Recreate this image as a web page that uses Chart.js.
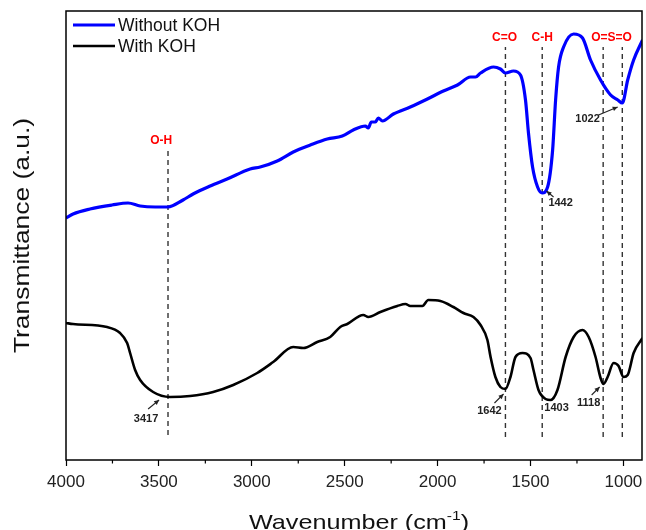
<!DOCTYPE html>
<html>
<head>
<meta charset="utf-8">
<script src="https://cdn.jsdelivr.net/npm/chart.js@4.4.1/dist/chart.umd.min.js"></script>
<style>html,body{margin:0;padding:0;background:#fff}#wrap{width:646px;height:530px}</style>
</head>
<body>
<div id="wrap"><canvas id="c" width="646" height="530"></canvas></div>
<script>
'use strict';
// Spectres FTIR : sans KOH (bleu) / avec KOH (noir). Transmittance en unités arbitraires.
const FONT = '"Liberation Sans", Arial, sans-serif';

const BLUE_WN = [4000, 3962, 3871, 3752, 3666, 3601, 3520, 3451, 3370, 3316, 3224, 3133, 3009, 2955, 2863, 2777, 2685, 2594, 2513, 2454,
  2389, 2373, 2357, 2335, 2319, 2297, 2238, 2147, 2055, 1969, 1893, 1823, 1796, 1769, 1699, 1662, 1635, 1592, 1554, 1527,
  1511, 1489, 1462, 1437, 1408, 1381, 1365, 1349, 1322, 1268, 1220, 1177, 1123, 1069, 1030, 1006, 977, 945, 897];
const BLUE_T = [242, 246, 251, 255, 257, 254, 253, 253, 260, 266, 274, 281, 291, 293, 299, 308, 315, 321, 324, 330,
  334, 332, 338, 338, 342, 339, 346, 353, 361, 369, 375, 383, 383, 387, 393, 391, 387, 389, 385, 360,
  327, 293, 273, 267, 273, 310, 360, 393, 413, 426, 422, 400, 380, 365, 360, 357, 380, 400, 420];

const BLACK_WN = [4000, 3962, 3779, 3709, 3671, 3655, 3628, 3601, 3531, 3440, 3332, 3208, 3100, 2971, 2885, 2777, 2723, 2648, 2578, 2524,
  2486, 2400, 2373, 2308, 2217, 2173, 2147, 2082, 2050, 1985, 1915, 1861, 1807, 1769, 1732, 1715, 1689, 1662, 1635, 1608,
  1581, 1543, 1500, 1484, 1457, 1419, 1392, 1355, 1311, 1268, 1220, 1187, 1150, 1123, 1107, 1085, 1053, 1026, 999, 977, 945, 897];
const BLACK_T = [137, 136, 133, 127, 117, 107, 90, 80, 68, 63, 64, 68, 75, 87, 98, 113, 112, 118, 123, 133,
  136, 145, 143, 148, 154, 156, 154, 154, 160, 159, 153, 147, 143, 135, 120, 103, 83, 73, 71, 83,
  103, 107, 102, 90, 70, 61, 60, 70, 103, 123, 130, 123, 103, 82, 76, 83, 97, 94, 83, 85, 107, 122];

const SERIES = ['Without KOH', 'With KOH'];
const MAJOR_TICKS = [4000, 3500, 3000, 2500, 2000, 1500, 1000];
const MINOR_TICKS = [3750, 3250, 2750, 2250, 1750, 1250];

// Bandes repérées (traits pointillés) : position, haut et bas du trait.
const BAND_WN = [3451, 1635, 1437, 1109, 1006];
const BAND_TOP = [312, 413, 413, 413, 413];
const BAND_BOTTOM = [25, 23, 23, 23, 23];

// Libellés des groupes (rouge) et des pics (noir, avec flèche éventuelle).
const GROUPS = [
  { text: 'O-H', wn: 3488, t: 319 },
  { text: 'C=O', wn: 1640, t: 422 },
  { text: 'C-H', wn: 1437, t: 422 },
  { text: 'O=S=O', wn: 1064, t: 422 },
];
const PEAKS = [
  { text: '3417', wn: 3569, t: 41, from: [3558, 51], to: [3499, 60] },
  { text: '1642', wn: 1721, t: 49, from: [1694, 57], to: [1645, 66] },
  { text: '1403', wn: 1360, t: 52 },
  { text: '1118', wn: 1187, t: 57, from: [1171, 65], to: [1128, 73] },
  { text: '1442', wn: 1338, t: 257, from: [1376, 263], to: [1414, 269] },
  { text: '1022', wn: 1193, t: 341, from: [1134, 345], to: [1031, 353] },
];

const pts = (xs, ys) => xs.map((v, i) => ({ x: v, y: ys[i] }));

function arrow(ctx, x0, y0, x1, y1) {
  const ang = Math.atan2(y1 - y0, x1 - x0), h = 5.5;
  ctx.beginPath(); ctx.moveTo(x0, y0); ctx.lineTo(x1, y1); ctx.stroke();
  ctx.beginPath(); ctx.moveTo(x1, y1);
  ctx.lineTo(x1 - h * Math.cos(ang - 0.45), y1 - h * Math.sin(ang - 0.45));
  ctx.lineTo(x1 - h * Math.cos(ang + 0.45), y1 - h * Math.sin(ang + 0.45));
  ctx.closePath(); ctx.fill();
}

const decor = {
  id: 'decor',
  afterDraw(chart) {
    const { ctx, chartArea: a, scales: { x, y } } = chart;
    const px = v => x.getPixelForValue(v), py = v => y.getPixelForValue(v);
    ctx.save();
    // cadre
    ctx.strokeStyle = '#000'; ctx.lineWidth = 1.5;
    ctx.strokeRect(a.left, a.top, a.right - a.left, a.bottom - a.top);
    // graduations mineures
    ctx.lineWidth = 1.2;
    MINOR_TICKS.forEach(v => { const p = px(v); ctx.beginPath(); ctx.moveTo(p, a.bottom); ctx.lineTo(p, a.bottom + 3.5); ctx.stroke(); });
    // légende
    ctx.font = '17.5px ' + FONT; ctx.textAlign = 'left'; ctx.textBaseline = 'middle';
    chart.data.datasets.slice(0, 2).forEach((ds, i) => {
      const yy = a.top + 14 + i * 21;
      ctx.strokeStyle = ds.borderColor; ctx.lineWidth = ds.borderWidth;
      ctx.beginPath(); ctx.moveTo(a.left + 7, yy); ctx.lineTo(a.left + 49, yy); ctx.stroke();
      ctx.fillStyle = '#111'; ctx.fillText(ds.label, a.left + 52, yy + 1);
    });
    // groupes fonctionnels
    ctx.fillStyle = '#ff0000'; ctx.font = 'bold 12px ' + FONT; ctx.textAlign = 'center';
    GROUPS.forEach(g => ctx.fillText(g.text, px(g.wn), py(g.t)));
    // pics
    ctx.fillStyle = '#222'; ctx.strokeStyle = '#222'; ctx.lineWidth = 1.1; ctx.font = 'bold 11px ' + FONT;
    PEAKS.forEach(p => {
      ctx.fillText(p.text, px(p.wn), py(p.t));
      if (p.from) arrow(ctx, px(p.from[0]), py(p.from[1]), px(p.to[0]), py(p.to[1]));
    });
    // titre axe X avec exposant
    ctx.fillStyle = '#111'; ctx.textBaseline = 'alphabetic'; ctx.textAlign = 'left';
    const big = '21px ' + FONT, small = '13px ' + FONT;
    ctx.font = big; const w1 = ctx.measureText('Wavenumber (cm').width, w3 = ctx.measureText(')').width;
    ctx.font = small; const w2 = ctx.measureText('-1').width;
    const sx = 1.2, tw = (w1 + w2 + w3) * sx, cx = (a.left + a.right) / 2 + 5;
    ctx.save(); ctx.translate(cx - tw / 2, 529); ctx.scale(sx, 1);
    ctx.font = big; ctx.fillText('Wavenumber (cm', 0, 0);
    ctx.font = small; ctx.fillText('-1', w1, -9);
    ctx.font = big; ctx.fillText(')', w1 + w2, 0);
    ctx.restore();
    // titre axe Y
    ctx.save(); ctx.translate(23, (a.top + a.bottom) / 2); ctx.rotate(-Math.PI / 2); ctx.scale(1.2, 1);
    ctx.font = '22px ' + FONT; ctx.textAlign = 'center'; ctx.textBaseline = 'middle';
    ctx.fillText('Transmittance (a.u.)', 0, 0);
    ctx.restore();
    ctx.restore();
  }
};

const bandSets = BAND_WN.map((wn, i) => ({
  label: 'band' + i, data: [{ x: wn, y: BAND_BOTTOM[i] }, { x: wn, y: BAND_TOP[i] }],
  borderColor: '#333', borderWidth: 1.4, borderDash: [5, 4], pointRadius: 0, order: 2,
}));

new Chart(document.getElementById('c').getContext('2d'), {
  type: 'line',
  data: {
    datasets: [
      { label: SERIES[0], data: pts(BLUE_WN, BLUE_T), borderColor: '#0000ff', borderWidth: 3.2, pointRadius: 0, cubicInterpolationMode: 'monotone', borderJoinStyle: 'round', order: 1 },
      { label: SERIES[1], data: pts(BLACK_WN, BLACK_T), borderColor: '#000000', borderWidth: 2.6, pointRadius: 0, cubicInterpolationMode: 'monotone', borderJoinStyle: 'round', order: 1 },
      ...bandSets,
    ],
  },
  options: {
    responsive: false, devicePixelRatio: 1, animation: false,
    layout: { padding: { left: 66, right: 4, top: 11, bottom: 0 } },
    plugins: { legend: { display: false }, tooltip: { enabled: false } },
    scales: {
      x: {
        type: 'linear', reverse: true, min: 900, max: 4000,
        afterBuildTicks: s => { s.ticks = [...MAJOR_TICKS, ...MINOR_TICKS].sort((p, q) => p - q).map(v => ({ value: v })); },
        afterFit: s => { s.height = 70; },
        border: { display: false },
        grid: { drawOnChartArea: false, drawTicks: true, tickLength: 6, tickWidth: 1.2, tickColor: c => (c.tick && MAJOR_TICKS.includes(c.tick.value)) ? '#000' : 'rgba(0,0,0,0)' },
        ticks: { autoSkip: false, maxRotation: 0, padding: 6, color: '#222', font: { family: FONT, size: 17 }, callback: v => MAJOR_TICKS.includes(v) ? String(v) : '' },
      },
      y: { display: false, min: 0, max: 449 },
    },
  },
  plugins: [decor],
});
</script>
</body>
</html>
